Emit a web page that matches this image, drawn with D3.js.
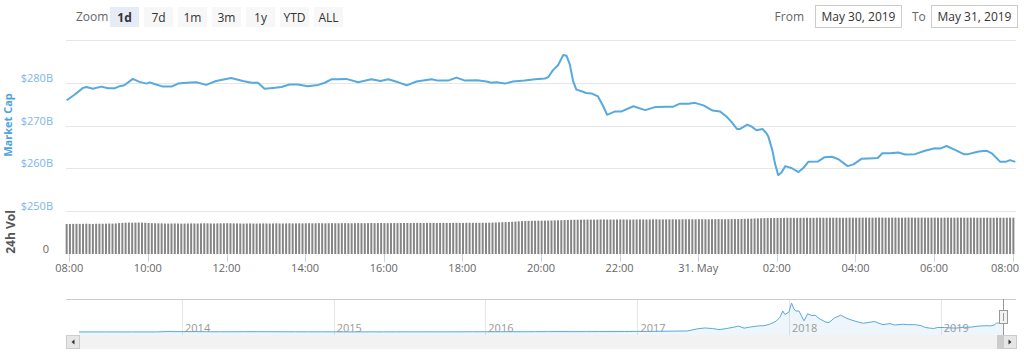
<!DOCTYPE html>
<html>
<head>
<meta charset="utf-8">
<script src="https://cdn.jsdelivr.net/npm/d3@7"></script>
<style>
	body { margin: 0; background: #fff; }
	svg { display: block; font-family: "Open Sans", sans-serif; }
</style>
</head>
<body>
<svg id="chart" width="1024" height="359"></svg>
<script>
// market cap, 5 min-ish samples ($B)
const capTimes = [
	"30 07:56","30 08:08","30 08:21","30 08:26","30 08:36","30 08:49","30 08:59","30 09:09","30 09:17","30 09:24",
	"30 09:37","30 09:47","30 09:58","30 10:03","30 10:10","30 10:23","30 10:36","30 10:46","30 10:59","30 11:14",
	"30 11:29","30 11:44","30 12:07","30 12:25","30 12:38","30 12:48","30 12:58","30 13:11","30 13:24","30 13:36",
	"30 13:49","30 14:04","30 14:20","30 14:30","30 14:40","30 14:50","30 15:03","30 15:21","30 15:41","30 15:55",
	"30 16:07","30 16:22","30 16:35","30 16:50","30 17:13","30 17:23","30 17:38","30 17:51","30 18:04","30 18:22",
	"30 18:37","30 18:44","30 18:52","30 19:05","30 19:17","30 19:35","30 19:51","30 20:06","30 20:11","30 20:18",
	"30 20:26","30 20:34","30 20:39","30 20:44","30 20:49","30 20:54","30 21:02","30 21:09","30 21:17","30 21:27",
	"30 21:35","30 21:41","30 21:53","30 22:03","30 22:21","30 22:39","30 22:54","30 23:12","30 23:22","30 23:32",
	"30 23:45","30 23:55","31 00:08","31 00:22","31 00:33","31 00:43","31 00:51","31 00:59","31 01:04","31 01:15",
	"31 01:21","31 01:29","31 01:38","31 01:44","31 01:47","31 01:53","31 01:57","31 02:02","31 02:07","31 02:13",
	"31 02:23","31 02:33","31 02:40","31 02:48","31 03:03","31 03:13","31 03:24","31 03:34","31 03:48","31 03:57",
	"31 04:09","31 04:20","31 04:34","31 04:41","31 04:53","31 05:05","31 05:16","31 05:31","31 05:46","31 06:01",
	"31 06:09","31 06:19","31 06:32","31 06:45","31 06:52","31 07:02","31 07:08","31 07:20","31 07:28","31 07:41",
	"31 07:49","31 07:56","31 08:04"
];
const capValues = [
	275.9,277.2,278.8,279.0,278.6,279.1,278.7,278.7,279.2,279.4,
	280.9,280.2,279.8,280.1,279.7,279.1,279.1,279.8,280.0,280.1,
	279.5,280.4,281.1,280.4,280.0,280.0,278.6,278.8,279.0,279.6,
	279.6,279.2,279.5,280.0,280.8,280.8,280.9,280.1,280.8,280.4,
	280.8,280.1,279.4,280.3,280.8,280.5,280.5,281.2,280.5,280.6,
	280.3,280.0,280.1,279.8,280.3,280.5,280.8,281.0,281.3,282.9,
	284.1,286.5,286.3,284.3,280.4,278.4,278.0,277.6,277.5,276.8,
	274.5,272.5,273.3,273.3,274.5,273.6,274.3,274.4,274.4,275.1,
	275.1,275.3,274.7,273.5,273.3,272.1,270.8,269.2,269.2,270.2,
	269.8,268.9,269.2,268.2,267.4,264.3,261.2,258.4,259.0,260.5,
	260.0,259.1,260.0,261.5,261.6,262.6,262.7,262.1,260.5,260.9,
	262.2,262.3,262.4,263.5,263.5,263.7,263.2,263.3,264.1,264.7,
	264.6,265.2,264.3,263.3,263.3,263.7,263.9,264.1,263.5,261.5,
	261.5,261.9,261.5
];
const capTicks = [250, 260, 270, 280, 290];

// 24h volume, one bar every 5 minutes from 07:56 ($B)
const volStart = "30 07:56";
const volValues = [
	90.6,90.9,91.1,91.3,91.0,91.2,91.5,91.1,90.9,91.3,91.6,91.4,
	91.7,92.1,91.9,92.4,93.4,94.1,94.6,95.0,94.5,94.9,95.2,94.8,
	94.4,93.9,93.3,93.0,92.7,92.5,92.1,91.9,92.2,92.4,92.1,91.8,
	92.0,92.2,92.5,92.3,92.1,92.6,92.9,92.7,92.4,92.2,92.5,92.7,
	92.9,93.1,92.8,92.6,92.4,92.1,91.9,92.2,92.4,92.1,92.0,92.3,
	92.5,92.3,92.1,92.4,92.6,92.3,92.2,92.5,92.7,92.4,92.6,92.8,
	92.6,92.9,93.1,92.8,93.0,93.2,92.9,92.7,93.0,93.3,93.1,92.9,
	93.2,93.4,93.1,92.9,93.2,93.5,93.3,93.1,93.4,93.6,93.3,93.5,
	93.7,93.4,93.2,93.5,93.7,93.4,93.6,93.9,93.7,93.5,93.8,94.0,
	93.8,93.6,93.9,94.1,93.9,93.7,94.0,94.2,94.0,93.8,94.1,94.3,
	94.1,93.9,94.2,94.4,94.2,94.0,94.3,94.5,94.3,94.6,94.9,95.3,
	95.6,96.0,96.5,96.9,97.4,98.0,98.6,99.3,99.7,100.0,100.3,100.5,
	100.6,100.8,101.0,101.1,101.3,101.6,101.9,102.2,102.6,103.0,103.3,103.5,
	103.6,103.8,103.9,104.1,104.0,103.9,104.2,104.4,104.3,104.1,104.0,104.2,
	104.3,104.5,104.4,104.2,104.1,104.3,104.5,104.6,104.4,104.3,104.5,104.7,
	104.8,104.6,104.5,104.7,104.9,105.0,104.8,104.7,104.9,105.1,105.0,104.8,
	104.9,105.1,105.2,105.0,104.9,105.1,105.3,105.4,105.2,105.1,105.3,105.5,
	105.6,105.8,106.0,106.3,106.7,107.0,107.4,107.8,108.1,108.4,108.6,108.8,
	109.0,109.1,109.3,109.2,109.4,109.5,109.3,109.2,109.4,109.6,109.5,109.3,
	109.4,109.6,109.7,109.5,109.4,109.6,109.8,109.9,109.7,109.6,109.8,110.0,
	109.9,109.7,109.8,110.0,110.1,109.9,109.8,110.0,110.2,110.1,109.9,109.8,
	110.0,110.1,109.9,109.8,110.0,110.2,110.1,109.9,110.0,110.1,109.9,109.8,
	109.9,110.0,109.8,109.7,109.9,110.0,109.8,109.7,109.9,110.0,109.8,109.7,
	109.8,109.9,109.7,109.6,109.8,109.9,109.7,109.6,109.8,109.9,109.7,109.6,
	109.7,109.8
];

// navigator: total market cap history ($B)
const navDates = [
	"2013-04-28","2013-06-01","2013-07-01","2013-08-01","2013-09-01","2013-10-01","2013-11-01","2013-12-01","2013-12-15",
	"2014-01-01","2014-02-01","2014-03-01","2014-04-01","2014-05-01","2014-06-01","2014-07-01","2014-08-01","2014-09-01",
	"2014-10-01","2014-11-01","2014-12-01","2015-01-01","2015-02-01","2015-03-01","2015-04-01","2015-05-01","2015-06-01",
	"2015-07-01","2015-08-01","2015-09-01","2015-10-01","2015-11-01","2015-12-01","2016-01-01","2016-02-01","2016-03-01",
	"2016-04-01","2016-05-01","2016-06-01","2016-07-01","2016-08-01","2016-09-01","2016-10-01","2016-11-01","2016-12-01",
	"2017-01-01","2017-02-01","2017-03-01","2017-04-01","2017-05-01","2017-05-25","2017-06-12","2017-07-01","2017-07-16",
	"2017-08-01","2017-08-20","2017-09-01","2017-09-15","2017-10-01","2017-10-20","2017-11-01","2017-11-15","2017-12-01",
	"2017-12-10","2017-12-17","2017-12-22","2018-01-01","2018-01-07","2018-01-12","2018-01-17","2018-01-25","2018-02-06",
	"2018-02-15","2018-02-25","2018-03-05","2018-03-15","2018-03-31","2018-04-07","2018-04-20","2018-05-05","2018-05-20",
	"2018-06-01","2018-06-15","2018-06-29","2018-07-15","2018-07-25","2018-08-01","2018-08-15","2018-09-01","2018-09-12",
	"2018-10-01","2018-10-15","2018-11-01","2018-11-15","2018-11-25","2018-12-07","2018-12-15","2018-12-25","2019-01-10",
	"2019-01-28","2019-02-07","2019-02-24","2019-03-15","2019-04-03","2019-04-20","2019-05-01","2019-05-10","2019-05-15",
	"2019-05-20","2019-05-31"
];
const navValues = [
	1.6,1.3,1.0,1.2,1.6,1.7,2.7,13.5,9.0,
	10.0,11.0,7.5,6.5,6.0,8.5,8.4,7.8,6.5,
	5.5,4.8,5.3,4.5,3.4,4.0,3.8,3.5,3.6,
	4.5,4.5,3.8,4.0,5.5,6.5,7.0,6.7,7.8,
	7.6,8.4,9.9,11.7,10.6,10.7,11.2,12.4,13.3,
	17.7,17.3,22.0,25.0,30.0,90,115,100,68,
	95,135,170,110,145,175,180,220,310,
	420,600,500,575,830,680,600,600,320,
	520,470,480,380,280,270,400,480,390,
	340,290,250,280,300,270,210,240,200,
	220,210,210,180,130,110,100,130,128,
	115,112,135,140,170,180,175,200,250,
	260,275
];

const zoomButtons = ["1d", "7d", "1m", "3m", "1y", "YTD", "ALL"];
const rangeLabels = ["May 30, 2019", "May 31, 2019"];

const parseT = d3.timeParse("%Y-%m-%d %H:%M");
const toDate = (s) => parseT("2019-05-" + s);
const parseDay = d3.timeParse("%Y-%m-%d");

const capData = capTimes.map((t, i) => ({ t: toDate(t), v: capValues[i] }));
const vol0 = toDate(volStart);
const volData = volValues.map((v, i) => ({ t: d3.timeMinute.offset(vol0, i * 5), v: v }));
const navData = navDates.map((d, i) => ({ t: parseDay(d), v: navValues[i] }));

const left = 66, right = 1016;
const blue = "#58a9de";
const grid = "#e6e6e6";

const svg = d3.select("#chart");

const x = d3.scaleTime()
	.domain([toDate("30 07:55"), toDate("31 08:05")])
	.range([left, right]);

const y = d3.scaleLinear()
	.domain([250, 290])
	.range([211, 40]);

const yVol = d3.scaleLinear()
	.domain([0, 130])
	.range([254, 211]);

// ---- range selector
svg.append("text")
	.attr("x", 76).attr("y", 21)
	.attr("font-size", 12).attr("fill", "#666")
	.text("Zoom");

const btn = svg.selectAll(".btn")
	.data(zoomButtons)
	.enter()
	.append("g")
	.attr("transform", (d, i) => `translate(${110 + i * 34}, 7)`);

btn.append("rect")
	.attr("width", 29).attr("height", 20)
	.attr("fill", (d, i) => i === 0 ? "#e6ebf5" : "#f7f7f7");

btn.append("text")
	.attr("x", 14.5).attr("y", 14.5)
	.attr("text-anchor", "middle")
	.attr("font-size", 12)
	.attr("font-weight", (d, i) => i === 0 ? "bold" : "normal")
	.attr("fill", "#333")
	.text((d) => d);

svg.append("text")
	.attr("x", 804).attr("y", 21)
	.attr("text-anchor", "end")
	.attr("font-size", 12).attr("fill", "#666")
	.text("From");

svg.append("text")
	.attr("x", 912).attr("y", 21)
	.attr("font-size", 12).attr("fill", "#666")
	.text("To");

const boxes = svg.selectAll(".box")
	.data(rangeLabels)
	.enter()
	.append("g")
	.attr("transform", (d, i) => `translate(${i === 0 ? 815.5 : 931.5}, 5.5)`);

boxes.append("rect")
	.attr("width", 86).attr("height", 22)
	.attr("fill", "#fff").attr("stroke", "#ccc");

boxes.append("text")
	.attr("x", 43).attr("y", 15.5)
	.attr("text-anchor", "middle")
	.attr("font-size", 12).attr("fill", "#333")
	.text((d) => d);

// ---- main pane
svg.append("g")
	.selectAll("line")
	.data(capTicks)
	.enter()
	.append("line")
	.attr("x1", left).attr("x2", right)
	.attr("y1", (d) => Math.round(y(d)) + 0.5)
	.attr("y2", (d) => Math.round(y(d)) + 0.5)
	.attr("stroke", grid);

svg.append("g")
	.selectAll("text")
	.data(capTicks.filter((d) => d < 290))
	.enter()
	.append("text")
	.attr("x", 53)
	.attr("y", (d) => y(d) - 1)
	.attr("text-anchor", "end")
	.attr("font-size", 11)
	.attr("fill", "#7cb5ec")
	.text((d) => `$${d}B`);

svg.append("text")
	.attr("transform", "translate(12, 125) rotate(-90)")
	.attr("text-anchor", "middle")
	.attr("font-size", 11).attr("font-weight", "bold")
	.attr("fill", "#4fa3e0")
	.text("Market Cap");

const line = d3.line()
	.x((d) => x(d.t))
	.y((d) => y(d.v));

svg.append("path")
	.datum(capData)
	.attr("d", line)
	.attr("fill", "none")
	.attr("stroke", blue)
	.attr("stroke-width", 2)
	.attr("stroke-linejoin", "round");

// ---- volume pane
svg.append("g")
	.selectAll("rect")
	.data(volData)
	.enter()
	.append("rect")
	.attr("x", (d) => x(d.t) - 1)
	.attr("width", 2)
	.attr("y", (d) => yVol(d.v))
	.attr("height", (d) => yVol(0) - yVol(d.v))
	.attr("fill", "#858585");

svg.append("text")
	.attr("x", 49).attr("y", 253)
	.attr("text-anchor", "end")
	.attr("font-size", 11).attr("fill", "#666")
	.text("0");

svg.append("text")
	.attr("transform", "translate(15, 232) rotate(-90)")
	.attr("text-anchor", "middle")
	.attr("font-size", 12).attr("font-weight", "bold")
	.attr("fill", "#555")
	.text("24h Vol");

// ---- x axis
const xTicks = x.ticks(d3.timeHour.every(2));
const fmt = (d) => d.getHours() === 0 ? d3.timeFormat("%d. %b")(d) : d3.timeFormat("%H:%M")(d);

svg.append("g")
	.selectAll("line")
	.data(xTicks)
	.enter()
	.append("line")
	.attr("x1", (d) => Math.round(x(d)) + 0.5)
	.attr("x2", (d) => Math.round(x(d)) + 0.5)
	.attr("y1", 254).attr("y2", 262)
	.attr("stroke", "#ccd6eb");

// labels near the right edge are pulled inside, as the original does
svg.append("g")
	.selectAll("text")
	.data(xTicks)
	.enter()
	.append("text")
	.attr("x", (d) => Math.min(x(d), 1005))
	.attr("y", 272)
	.attr("text-anchor", "middle")
	.attr("font-size", 11).attr("fill", "#666")
	.text(fmt);

// ---- navigator
const navX = d3.scaleTime()
	.domain(d3.extent(navData, (d) => d.t))
	.range([79, 1003]);

const navY = d3.scaleLinear()
	.domain([0, d3.max(navValues)])
	.range([332, 303]);

svg.append("line")
	.attr("x1", left).attr("x2", right)
	.attr("y1", 299.5).attr("y2", 299.5)
	.attr("stroke", "#ccc");

const years = navX.ticks(d3.timeYear.every(1));

svg.append("g")
	.selectAll("line")
	.data(years)
	.enter()
	.append("line")
	.attr("x1", (d) => Math.round(navX(d)) + 0.5)
	.attr("x2", (d) => Math.round(navX(d)) + 0.5)
	.attr("y1", 300).attr("y2", 335)
	.attr("stroke", grid);

svg.append("path")
	.datum(navData)
	.attr("d", d3.area().x((d) => navX(d.t)).y0(335).y1((d) => navY(d.v)))
	.attr("fill", "rgba(88,169,222,0.1)");

svg.append("path")
	.datum(navData)
	.attr("d", d3.line().x((d) => navX(d.t)).y((d) => navY(d.v)))
	.attr("fill", "none")
	.attr("stroke", blue)
	.attr("stroke-width", 1);

svg.append("g")
	.selectAll("text")
	.data(years)
	.enter()
	.append("text")
	.attr("x", (d) => navX(d) + 3)
	.attr("y", 332)
	.attr("font-size", 11).attr("fill", "#999")
	.text(d3.timeFormat("%Y"));

// scrollbar
svg.append("rect")
	.attr("x", left).attr("y", 335)
	.attr("width", right - left).attr("height", 14)
	.attr("fill", "#f2f2f2");

const endX = navX(navData[navData.length - 1].t);

svg.append("rect")
	.attr("x", endX - 6).attr("y", 335)
	.attr("width", 6).attr("height", 14)
	.attr("fill", "#ccc");

[[left, -1], [right - 13, 1]].forEach(([bx, dir]) => {
	svg.append("rect")
		.attr("x", bx + 0.5).attr("y", 335.5)
		.attr("width", 13).attr("height", 13)
		.attr("fill", "#e6e6e6").attr("stroke", "#ccc");
	const cx = bx + 7, cy = 342;
	svg.append("path")
		.attr("d", `M${cx + 1.5 * dir},${cy} L${cx - 1.5 * dir},${cy - 2.5} L${cx - 1.5 * dir},${cy + 2.5} Z`)
		.attr("fill", "#333");
});

// handle
svg.append("line")
	.attr("x1", Math.round(endX) + 0.5).attr("x2", Math.round(endX) + 0.5)
	.attr("y1", 299).attr("y2", 335)
	.attr("stroke", "#999");

svg.append("rect")
	.attr("x", Math.round(endX) - 3.5).attr("y", 310.5)
	.attr("width", 8).attr("height", 13)
	.attr("fill", "#f2f2f2").attr("stroke", "#999");

svg.append("line")
	.attr("x1", Math.round(endX) + 0.5).attr("x2", Math.round(endX) + 0.5)
	.attr("y1", 313).attr("y2", 321)
	.attr("stroke", "#999");
</script>
</body>
</html>
